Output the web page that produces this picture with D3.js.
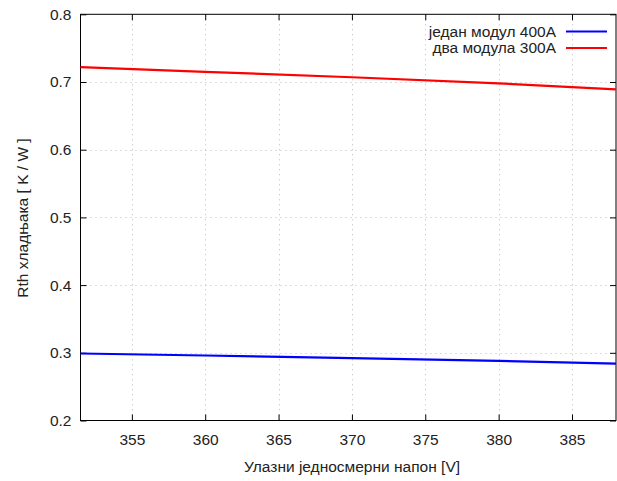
<!DOCTYPE html>
<html><head><meta charset="utf-8">
<script src="https://cdn.jsdelivr.net/npm/d3@7"></script>
<style>body{margin:0;background:#fff}text{font-family:"Liberation Sans",Arial,sans-serif;fill:#222}</style>
</head><body><svg id="c" width="617" height="481"></svg>
<script>
const xVals = [351.5, 360, 370, 380, 388];
const redVals = [0.722, 0.715, 0.707, 0.698, 0.689];
const blueVals = [0.299, 0.296, 0.292, 0.288, 0.284];
const seriesNames = ["један модул 400А", "два модула 300А"];
const xTicks = [355, 360, 365, 370, 375, 380, 385];
const yTicks = [0.2, 0.3, 0.4, 0.5, 0.6, 0.7, 0.8];
const xTitle = "Улазни једносмерни напон [V]";
const yTitle = "Rth хладњака [ K / W ]";

const FS = 15.5;
const svg = d3.select("#c");
const L = 80.5, R = 616, T = 14.3, B = 420.5;
const x = d3.scaleLinear().domain([351.5, 388]).range([L, R]);
const y = d3.scaleLinear().domain([0.2, 0.8]).range([B, T]);

// grid
const g = svg.append("g");
g.selectAll(".gx").data(xTicks).join("line")
  .attr("x1", d => Math.round(x(d)) + 0.5).attr("x2", d => Math.round(x(d)) + 0.5)
  .attr("y1", T).attr("y2", B).attr("stroke", "#bbb").attr("stroke-dasharray", "1,4");
g.selectAll(".gy").data(yTicks.slice(1, -1)).join("line")
  .attr("y1", d => Math.round(y(d)) + 0.5).attr("y2", d => Math.round(y(d)) + 0.5)
  .attr("x1", L).attr("x2", R).attr("stroke", "#bbb").attr("stroke-dasharray", "1,4");

// axes
const ax = svg.append("g").attr("transform", `translate(0,${B})`)
  .call(d3.axisBottom(x).tickValues(xTicks).tickSize(-6).tickPadding(13).tickFormat(d3.format("d")));
const axT = svg.append("g").attr("transform", `translate(0,${T})`)
  .call(d3.axisTop(x).tickValues(xTicks).tickSize(-6).tickFormat(""));
const ay = svg.append("g").attr("transform", `translate(${L},0)`)
  .call(d3.axisLeft(y).tickValues(yTicks).tickSize(-6).tickPadding(9).tickFormat(d3.format(".1f")));
const ayR = svg.append("g").attr("transform", `translate(${R},0)`)
  .call(d3.axisRight(y).tickValues(yTicks).tickSize(-6).tickFormat(""));
[ax, axT, ay, ayR].forEach(a => {
  a.select(".domain").remove();
  a.selectAll(".tick line").attr("stroke", "#000");
  a.selectAll("text").attr("font-size", FS).attr("fill", "#333")
   .style("font-family", "'Liberation Sans',Arial,sans-serif");
});
svg.append("rect").attr("x", L).attr("y", T).attr("width", R - L).attr("height", B - T)
  .attr("fill", "none").attr("stroke", "#000").attr("stroke-width", 1);

// lines
const line = d3.line().x((d, i) => x(xVals[i])).y(d => y(d));
svg.append("path").datum(blueVals).attr("d", line).attr("fill", "none")
  .attr("stroke", "#0000ff").attr("stroke-width", 2.2);
svg.append("path").datum(redVals).attr("d", line).attr("fill", "none")
  .attr("stroke", "#ff0000").attr("stroke-width", 2.2);

// legend
const colors = ["#0000ff", "#ff0000"];
seriesNames.forEach((n, i) => {
  const yy = 31.5 + i * 16.5;
  svg.append("text").attr("x", 556).attr("y", yy + 5).attr("text-anchor", "end")
    .attr("font-size", FS).attr("fill", "#222").text(n);
  svg.append("line").attr("x1", 566).attr("x2", 607).attr("y1", yy).attr("y2", yy)
    .attr("stroke", colors[i]).attr("stroke-width", 2.2);
});

// titles
svg.append("text").attr("x", 352).attr("y", 472).attr("text-anchor", "middle")
  .attr("font-size", FS).text(xTitle);
svg.append("text").attr("transform", "translate(28,218) rotate(-90)")
  .attr("text-anchor", "middle").attr("font-size", FS).text(yTitle);
</script></body></html>
